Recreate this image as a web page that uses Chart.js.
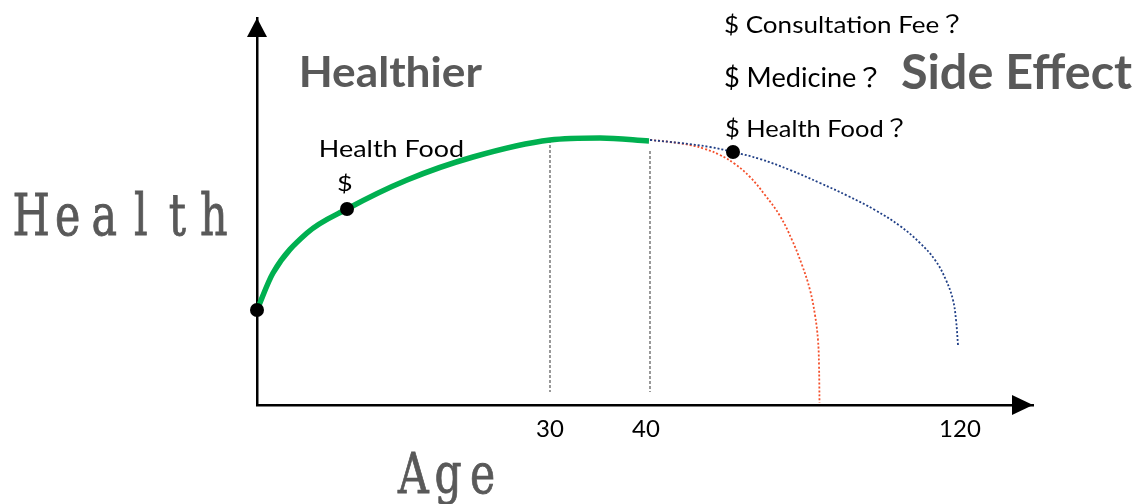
<!DOCTYPE html>
<html>
<head>
<meta charset="utf-8">
<script src="https://cdn.jsdelivr.net/npm/chart.js@4.4.0/dist/chart.umd.min.js"></script>
<style>
  html, body { margin: 0; padding: 0; background: #fff; }
  #wrap { width: 1146px; height: 504px; position: relative; }
</style>
</head>
<body>
<div id="wrap"><canvas id="chart"></canvas></div>
<script>
"use strict";

// healthy part of life, up to 40
const greenAge = [0.7, 2.3, 5.7, 9.7, 15.7, 22.3, 30, 35, 39.9];
const greenHealth = [9.5, 13.2, 17.2, 19.6, 22.5, 24.8, 26.5, 26.7, 26.4];

// after 40, with health food (long tail)
const blueAge = [40, 43, 46, 48.3, 51, 54, 57, 59.8, 62.5, 65, 67, 68.5, 69.6, 70.3, 70.6, 70.8];
const blueHealth = [26.5, 26.2, 25.8, 25.3, 24.6, 23.5, 22.2, 20.9, 19.5, 17.9, 16.2, 14.5, 12.5, 10.5, 8.5, 6.0];

// after 40, side effect (short tail)
const redAge = [40, 42, 44, 45.5, 47, 48.5, 50, 51.5, 53, 54.2, 55.2, 56, 56.5, 56.8, 56.9, 56.95];
const redHealth = [26.5, 26.3, 26.0, 25.6, 25.0, 24.1, 22.8, 21.0, 18.9, 16.5, 14.0, 11.5, 9.0, 6.5, 4.0, 0.2];

// black dots
const dotAge = [0.7, 9.7, 48.3];
const dotHealth = [9.5, 19.6, 25.3];

// dashed guides at 30 and 40
const guideAge = [30, 40];
const guideTop = [26.5, 25.4];
const guideBottom = [1.3, 1.3];

// x ticks
const tickAges = [30, 39.6, 71];
const tickLabels = ["30", "40", "120"];

(function() {
  window.addEventListener("load", init);

  function pts(xs, ys) {
    return xs.map((x, i) => ({x: x, y: ys[i]}));
  }

  // draw a string stretched into a box (left, top of tallest glyph, right, baseline)
  function fitText(ctx, str, font, color, box) {
    ctx.save();
    ctx.font = font;
    ctx.textAlign = "left";
    ctx.textBaseline = "alphabetic";
    let m = ctx.measureText(str);
    let w = m.actualBoundingBoxLeft + m.actualBoundingBoxRight;
    let a = m.actualBoundingBoxAscent;
    let sx = (box[2] - box[0]) / w;
    let sy = (box[3] - box[1]) / a;
    ctx.translate(box[0], box[3]);
    ctx.scale(sx, sy);
    ctx.fillStyle = color;
    ctx.fillText(str, m.actualBoundingBoxLeft, 0);
    ctx.restore();
  }

  // serif glyphs laid out in fixed cells, like a monospace font
  function monoText(ctx, str, font, color, box) {
    ctx.save();
    ctx.font = font;
    ctx.textAlign = "center";
    ctx.textBaseline = "alphabetic";
    ctx.fillStyle = color;
    ctx.strokeStyle = color;
    ctx.lineWidth = 0.9;
    let chars = str.split("");
    let cell = (box[2] - box[0]) / chars.length;
    let a = ctx.measureText(str).actualBoundingBoxAscent;
    let sy = (box[3] - box[1]) / a;
    let widest = Math.max(...chars.map(c => {
      let m = ctx.measureText(c);
      return m.actualBoundingBoxLeft + m.actualBoundingBoxRight;
    }));
    let sx = cell * 0.92 / widest;
    chars.forEach((c, i) => {
      ctx.save();
      ctx.translate(box[0] + cell * (i + 0.5), box[3]);
      ctx.scale(sx, sy);
      ctx.fillText(c, 0, 0);
      ctx.strokeText(c, 0, 0);
      ctx.restore();
    });
    ctx.restore();
  }

  const axisNames = [
    {text: "Health", box: [13, 190, 232, 235]},
    {text: "Age", box: [396, 452, 500, 493]}
  ];

  const smallFont = "25px Lato, 'Noto Sans CJK JP'";
  const notes = [
    {text: "Healthier", font: "bold 40px Lato", color: "#595959", box: [302, 56, 482, 87]},
    {text: "Side Effect", font: "bold 46px Lato", color: "#595959", box: [902, 53, 1132, 89]},
    {text: "$ Consultation Fee？", font: smallFont, color: "#000", box: [725, 13, 959, 33]},
    {text: "$ Medicine？", font: smallFont, color: "#000", box: [725, 65, 877, 87]},
    {text: "$ Health Food？", font: smallFont, color: "#000", box: [726, 117, 903, 137]},
    {text: "Health Food", font: "25px Lato", color: "#000", box: [321, 139, 463, 157]},
    {text: "$", font: "25px Lato", color: "#000", box: [338, 173, 352, 191]}
  ];

  const sketchPlugin = {
    id: "sketch",
    afterDraw(chart) {
      let ctx = chart.ctx;
      let area = chart.chartArea;
      ctx.save();
      ctx.fillStyle = "#000";
      // y arrow
      ctx.beginPath();
      ctx.moveTo(area.left, area.top);
      ctx.lineTo(area.left - 10, area.top + 19);
      ctx.lineTo(area.left + 10, area.top + 19);
      ctx.closePath();
      ctx.fill();
      // x arrow
      ctx.beginPath();
      ctx.moveTo(area.right, area.bottom);
      ctx.lineTo(area.right - 21, area.bottom - 10);
      ctx.lineTo(area.right - 21, area.bottom + 10);
      ctx.closePath();
      ctx.fill();
      ctx.restore();

      axisNames.forEach(n => monoText(ctx, n.text, "60px 'DejaVu Serif'", "#595959", n.box));
      notes.forEach(n => fitText(ctx, n.text, n.font, n.color, n.box));
    }
  };

  function init() {
    let datasets = [
      {
        label: "dots",
        data: pts(dotAge, dotHealth),
        showLine: false,
        pointRadius: 7,
        pointHoverRadius: 7,
        pointBackgroundColor: "#000",
        pointBorderWidth: 0,
        clip: false,
        order: 0
      },
      {
        label: "healthy",
        data: pts(greenAge, greenHealth),
        showLine: true,
        borderColor: "#00b050",
        borderWidth: 5.5,
        pointRadius: 0,
        cubicInterpolationMode: "monotone",
        borderCapStyle: "butt",
        clip: false,
        order: 1
      },
      {
        label: "health food",
        data: pts(blueAge, blueHealth),
        showLine: true,
        borderColor: "#203f86",
        borderWidth: 1.8,
        borderDash: [2, 2],
        pointRadius: 0,
        tension: 0.4,
        clip: false,
        order: 2
      },
      {
        label: "side effect",
        data: pts(redAge, redHealth),
        showLine: true,
        borderColor: "#f4502c",
        borderWidth: 1.8,
        borderDash: [2, 2],
        pointRadius: 0,
        tension: 0.4,
        clip: false,
        order: 3
      }
    ];
    guideAge.forEach((a, i) => {
      datasets.push({
        label: "guide " + a,
        data: [{x: a, y: guideTop[i]}, {x: a, y: guideBottom[i]}],
        showLine: true,
        borderColor: "#555",
        borderWidth: 1.2,
        borderDash: [3, 2],
        pointRadius: 0,
        order: 4
      });
    });

    new Chart(id("chart"), {
      type: "scatter",
      data: {datasets: datasets},
      options: {
        responsive: true,
        maintainAspectRatio: false,
        animation: false,
        events: [],
        layout: {padding: {left: 257, right: 113, top: 18, bottom: 59}},
        plugins: {legend: {display: false}, tooltip: {enabled: false}},
        scales: {
          x: {
            type: "linear",
            min: 0.7,
            max: 78.3,
            afterFit: s => { s.height = 40; },
            afterBuildTicks: s => { s.ticks = tickAges.map(v => ({value: v})); },
            grid: {drawOnChartArea: false, drawTicks: false},
            border: {color: "#000", width: 2.5},
            ticks: {
              autoSkip: false,
              maxRotation: 0,
              padding: 10,
              color: "#000",
              font: {family: "Lato", size: 24},
              callback: (v, i) => tickLabels[i]
            }
          },
          y: {
            type: "linear",
            min: 0,
            max: 38.7,
            afterFit: s => { s.width = 0; },
            grid: {drawOnChartArea: false, drawTicks: false},
            border: {color: "#000", width: 2.5},
            ticks: {display: false}
          }
        }
      },
      plugins: [sketchPlugin]
    });
  }

  function id(name) {
    return document.getElementById(name);
  }
})();
</script>
</body>
</html>
